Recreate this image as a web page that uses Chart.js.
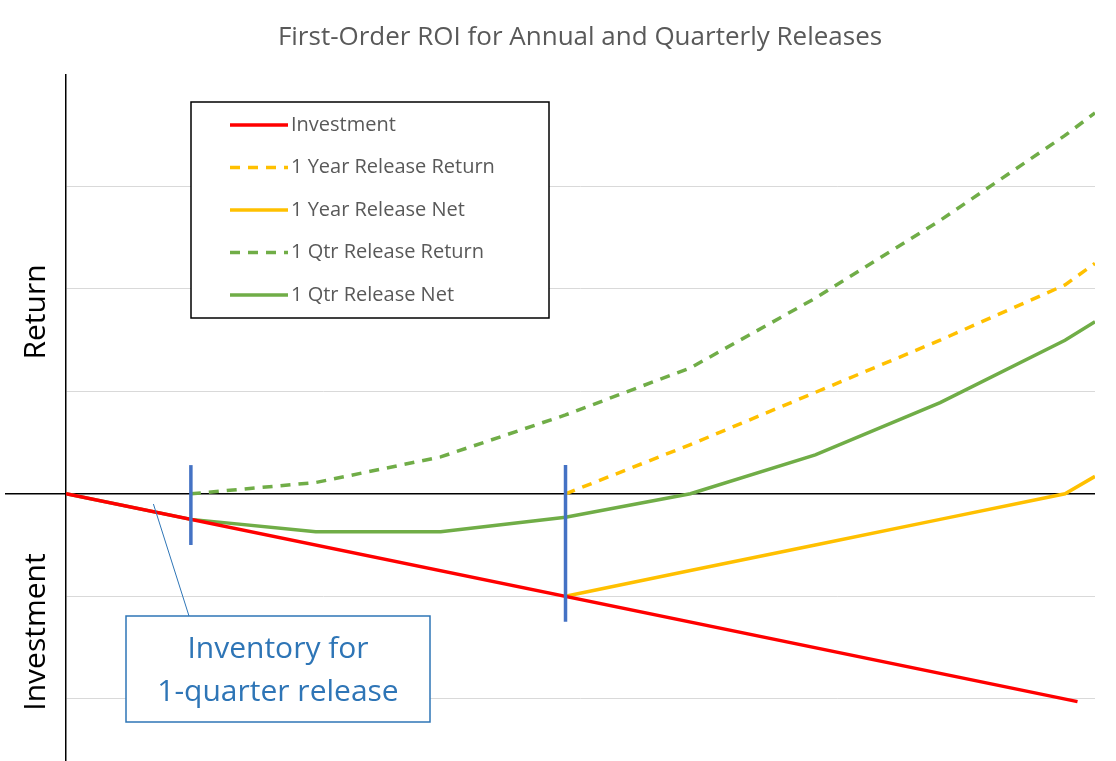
<!DOCTYPE html>
<html>
<head>
<meta charset="utf-8">
<script src="https://cdn.jsdelivr.net/npm/chart.js@4"></script>
<style>
  body { margin: 0; background: #fff; }
  #wrap { width: 1116px; height: 761px; }
</style>
</head>
<body>
<div id="wrap"><canvas id="roiChart"></canvas></div>
<script>
// x values are quarters since start
const investment = [[0, 0], [8.1, -2.03]];
const qtrReturn = [[1, 0], [2, 0.11], [3, 0.36], [4, 0.77], [5, 1.23], [6, 1.91], [7, 2.67], [8, 3.5], [8.24, 3.72]];
const qtrNet = [[0, 0], [1, -0.25], [2, -0.37], [3, -0.37], [4, -0.23], [5, 0.0], [6, 0.38], [7, 0.89], [8, 1.5], [8.24, 1.68]];
const yearReturn = [[4, 0], [5, 0.48], [6, 0.99], [7, 1.5], [8, 2.04], [8.24, 2.25]];
const yearNet = [[4, -1], [5, -0.75], [6, -0.5], [7, -0.25], [8, 0], [8.24, 0.17]];
const markers = [[1, 0.28, -0.5], [4, 0.28, -1.25]];

const RED = '#FF0000', YELLOW = '#FFC000', GREEN = '#70AD47', BLUE = '#4472C4', NOTE = '#2E75B6';

function pts(arr) {
    return arr.map(p => ({ x: p[0], y: p[1] }));
}

const legendItems = [
    { label: 'Investment', color: RED, dash: [] },
    { label: '1 Year Release Return', color: YELLOW, dash: [10, 8] },
    { label: '1 Year Release Net', color: YELLOW, dash: [] },
    { label: '1 Qtr Release Return', color: GREEN, dash: [10, 8] },
    { label: '1 Qtr Release Net', color: GREEN, dash: [] }
];

// extra drawing: title, axis line, markers, legend box, note box
const extras = {
    id: 'extras',
    beforeDatasetsDraw(chart) {
        const c = chart.ctx, x = chart.scales.x, y = chart.scales.y;
        c.save();
        c.strokeStyle = '#000';
        c.lineWidth = 1.5;
        c.beginPath();
        c.moveTo(5, y.getPixelForValue(0));
        c.lineTo(chart.chartArea.right, y.getPixelForValue(0));
        c.stroke();
        c.restore();
    },
    afterDatasetsDraw(chart) {
        const c = chart.ctx, x = chart.scales.x, y = chart.scales.y;
        c.save();
        // quarter markers
        c.strokeStyle = BLUE;
        c.lineWidth = 3.5;
        markers.forEach(m => {
            c.beginPath();
            c.moveTo(x.getPixelForValue(m[0]), y.getPixelForValue(m[1]));
            c.lineTo(x.getPixelForValue(m[0]), y.getPixelForValue(m[2]));
            c.stroke();
        });

        // title
        c.fillStyle = '#595959';
        c.font = '26px "Open Sans", sans-serif';
        c.textAlign = 'center';
        c.textBaseline = 'middle';
        c.fillText('First-Order ROI for Annual and Quarterly Releases', 580, 38);

        // axis titles
        c.fillStyle = '#000';
        c.font = '30px "Open Sans", sans-serif';
        c.save();
        c.translate(36, 312);
        c.rotate(-Math.PI / 2);
        c.fillText('Return', 0, 0);
        c.restore();
        c.save();
        c.translate(36, 632);
        c.rotate(-Math.PI / 2);
        c.fillText('Investment', 0, 0);
        c.restore();

        // legend
        c.fillStyle = '#fff';
        c.fillRect(191, 102, 358, 216);
        c.strokeStyle = '#000';
        c.lineWidth = 1.5;
        c.strokeRect(191, 102, 358, 216);
        c.font = '20px "Open Sans", sans-serif';
        c.textAlign = 'left';
        legendItems.forEach((it, i) => {
            const ly = 125 + i * 42.5;
            c.strokeStyle = it.color;
            c.lineWidth = 3.5;
            c.setLineDash(it.dash);
            c.beginPath();
            c.moveTo(230, ly);
            c.lineTo(288, ly);
            c.stroke();
            c.setLineDash([]);
            c.fillStyle = '#595959';
            c.fillText(it.label, 291, ly);
        });

        // note
        c.strokeStyle = NOTE;
        c.lineWidth = 1;
        c.beginPath();
        c.moveTo(189, 616);
        c.lineTo(x.getPixelForValue(0.7), y.getPixelForValue(-0.1));
        c.stroke();
        c.fillStyle = '#fff';
        c.fillRect(126, 616, 304, 106);
        c.lineWidth = 1.5;
        c.strokeRect(126, 616, 304, 106);
        c.fillStyle = NOTE;
        c.font = '30px "Open Sans", sans-serif';
        c.textAlign = 'center';
        c.fillText('Inventory for', 278, 649);
        c.fillText('1-quarter release', 278, 692);
        c.restore();
    }
};

const ctx = document.getElementById('roiChart').getContext('2d');
const myChart = new Chart(ctx, {
    type: 'line',
    data: {
        datasets: [
            { label: 'Investment', data: pts(investment), borderColor: RED },
            { label: '1 Year Release Return', data: pts(yearReturn), borderColor: YELLOW, borderDash: [10, 8] },
            { label: '1 Year Release Net', data: pts(yearNet), borderColor: YELLOW },
            { label: '1 Qtr Release Return', data: pts(qtrReturn), borderColor: GREEN, borderDash: [10, 8] },
            { label: '1 Qtr Release Net', data: pts(qtrNet), borderColor: GREEN }
        ]
    },
    options: {
        responsive: true,
        maintainAspectRatio: false,
        animation: false,
        layout: { padding: { left: 66, right: 21, top: 75, bottom: 1 } },
        elements: {
            point: { radius: 0 },
            line: { borderWidth: 3.5, tension: 0, fill: false }
        },
        plugins: { legend: { display: false }, tooltip: { enabled: false } },
        scales: {
            x: { type: 'linear', min: 0, max: 8.24, display: false },
            y: {
                min: -2.6, max: 4.09,
                ticks: { display: false, stepSize: 1 },
                afterBuildTicks: s => { s.ticks = s.ticks.filter(t => Number.isInteger(t.value) && t.value !== 0); },
                grid: { color: '#d9d9d9', lineWidth: 1, drawTicks: false },
                border: { display: true, color: '#000', width: 1.5 }
            }
        }
    },
    plugins: [extras]
});
</script>
</body>
</html>
